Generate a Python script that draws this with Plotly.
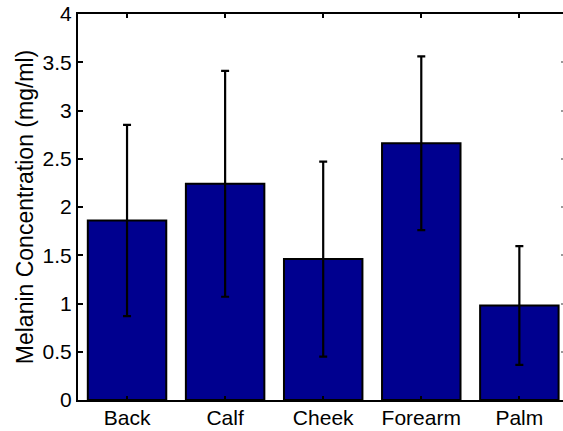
import plotly.graph_objects as go

categories = ["Back", "Calf", "Cheek", "Forearm", "Palm"]
means = [1.86, 2.24, 1.46, 2.66, 0.98]
errors = [0.99, 1.17, 1.01, 0.90, 0.615]
y_ticks = [0, 0.5, 1, 1.5, 2, 2.5, 3, 3.5, 4]
y_ticklabels = ["0", "0.5", "1", "1.5", "2", "2.5", "3", "3.5", "4"]

xpos = list(range(1, len(categories) + 1))
FONT = "Liberation Sans, Arial, Helvetica, sans-serif"

fig = go.Figure()
fig.add_trace(go.Bar(
    x=xpos, y=means, width=0.8,
    marker=dict(color="#00008F", line=dict(color="black", width=2)),
    error_y=dict(type="data", array=errors, visible=True,
                 color="black", thickness=2.2, width=4),
    showlegend=False,
))
# invisible trace for right-side mirrored ticks
fig.add_trace(go.Scatter(x=[xpos[0]], y=[0], yaxis="y2", mode="markers",
                         marker=dict(opacity=0), showlegend=False, hoverinfo="skip"))

fig.update_layout(
    width=563, height=431,
    margin=dict(l=78, r=0, t=14, b=31),
    plot_bgcolor="white", paper_bgcolor="white",
    font=dict(family=FONT, size=21, color="black"),
    bargap=0.2,
    xaxis=dict(
        range=[0.5, 5.445], tickvals=xpos, ticktext=categories,
        showline=True, linecolor="black", linewidth=2.2, mirror="ticks",
        ticks="inside", ticklen=4, tickwidth=2, tickcolor="black",
        showgrid=False, zeroline=False, tickfont=dict(size=21),
        ticklabelstandoff=-2,
    ),
    yaxis=dict(
        range=[0, 4], tickvals=y_ticks, ticktext=y_ticklabels,
        showline=True, linecolor="black", linewidth=2.2, mirror=False,
        ticks="inside", ticklen=5, tickwidth=2, tickcolor="black",
        showgrid=False, zeroline=False, tickfont=dict(size=21),
        title=dict(text="Melanin Concentration (mg/ml)", font=dict(size=23), standoff=2),
    ),
    yaxis2=dict(
        range=[0, 4], tickvals=y_ticks, overlaying="y", side="right", anchor="x",
        showticklabels=False, showline=False, showgrid=False, zeroline=False,
        ticks="inside", ticklen=2, tickwidth=2, tickcolor="#999999",
    ),
)

fig.write_html("out.html")
